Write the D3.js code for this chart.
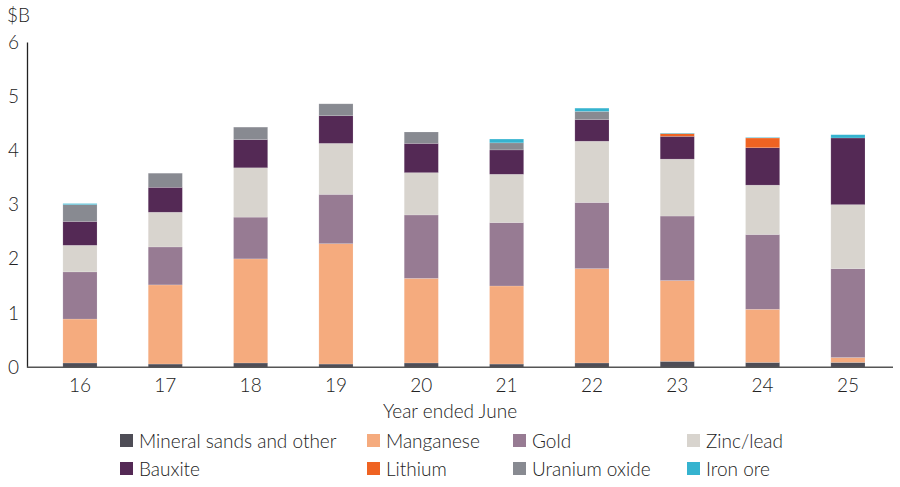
<!DOCTYPE html>
<html>
<head>
<meta charset="utf-8">
<script src="https://cdn.jsdelivr.net/npm/d3@7"></script>
<style>
  body { margin: 0; background: #fff; }
  svg text { font-family: Lato, "Open Sans", sans-serif; font-weight: 300; fill: #222; }
</style>
</head>
<body>
<svg id="chart"></svg>
<script>
// years along the x axis
const years = ["16", "17", "18", "19", "20", "21", "22", "23", "24", "25"];

// series, bottom to top, values in $B
const mineralSands = [0.08, 0.06, 0.08, 0.06, 0.08, 0.06, 0.08, 0.11, 0.09, 0.09];
const manganese    = [0.81, 1.46, 1.92, 2.22, 1.56, 1.44, 1.74, 1.49, 0.98, 0.09];
const gold         = [0.87, 0.70, 0.77, 0.91, 1.17, 1.17, 1.22, 1.19, 1.38, 1.64];
const zincLead     = [0.49, 0.64, 0.91, 0.94, 0.78, 0.89, 1.13, 1.05, 0.91, 1.18];
const bauxite      = [0.44, 0.46, 0.52, 0.51, 0.54, 0.45, 0.40, 0.42, 0.69, 1.23];
const lithium      = [0.00, 0.00, 0.00, 0.00, 0.00, 0.00, 0.00, 0.05, 0.18, 0.00];
const uranium      = [0.31, 0.26, 0.23, 0.22, 0.21, 0.13, 0.15, 0.00, 0.00, 0.00];
const ironOre      = [0.02, 0.00, 0.00, 0.00, 0.00, 0.07, 0.06, 0.01, 0.01, 0.06];

const yTicks = [0, 1, 2, 3, 4, 5, 6];

const series = [
  { key: "mineral", name: "Mineral sands and other", values: mineralSands, color: "#4e4d56" },
  { key: "manganese", name: "Manganese", values: manganese, color: "#f5ab7e" },
  { key: "gold", name: "Gold", values: gold, color: "#977b93" },
  { key: "zinc", name: "Zinc/lead", values: zincLead, color: "#d8d4ce" },
  { key: "bauxite", name: "Bauxite", values: bauxite, color: "#542955" },
  { key: "lithium", name: "Lithium", values: lithium, color: "#ef6322" },
  { key: "uranium", name: "Uranium oxide", values: uranium, color: "#888a91" },
  { key: "iron", name: "Iron ore", values: ironOre, color: "#35b3cf" }
];

// legend order (two rows of four)
const legendOrder = ["mineral", "manganese", "gold", "zinc", "bauxite", "lithium", "uranium", "iron"];

const width = 900, height = 487;
const margins = { left: 27, right: 7, top: 42, bottom: 119 };

const svg = d3.select("svg#chart").attr("width", width).attr("height", height);

const rows = years.map((y, i) => {
  const r = { year: y };
  series.forEach(s => { r[s.key] = s.values[i]; });
  return r;
});

const stack = d3.stack().keys(series.map(s => s.key));
const stacked = stack(rows);

const xScale = d3.scaleBand()
  .domain(years)
  .range([37.3, 890.6])
  .paddingInner(0.6)
  .paddingOuter(0.3);

const yScale = d3.scaleLinear()
  .domain([0, 6])
  .range([height - margins.bottom - 0.7, margins.top]);

// bars
const layers = svg.append("g").attr("id", "bars")
  .selectAll("g")
  .data(stacked)
  .join("g")
  .attr("fill", (d, i) => series[i].color);

layers.selectAll("rect")
  .data(d => d)
  .join("rect")
  .attr("x", d => xScale(d.data.year))
  .attr("width", xScale.bandwidth())
  .attr("y", d => yScale(d[1]))
  .attr("height", d => Math.max(0, yScale(d[0]) - yScale(d[1])))
  .attr("stroke", "rgba(255,255,255,0.25)")
  .attr("stroke-width", 0.6);

// y axis
const yAxis = svg.append("g")
  .attr("transform", `translate(${margins.left},0)`)
  .call(d3.axisLeft(yScale).tickValues(yTicks).tickFormat(d3.format("d")).tickSize(0).tickPadding(8));
yAxis.select(".domain").attr("stroke", "#222").attr("stroke-width", 1.3);
yAxis.selectAll("text").attr("font-size", 19).attr("fill", "#222");

// x axis
const xAxis = svg.append("g")
  .attr("transform", `translate(0,${yScale(0)})`)
  .call(d3.axisBottom(xScale).tickSize(0).tickPadding(11));
xAxis.select(".domain").remove();
xAxis.append("line")
  .attr("x1", margins.left)
  .attr("x2", 893)
  .attr("stroke", "#555")
  .attr("stroke-width", 1.6);
xAxis.selectAll("text").attr("font-size", 19).attr("fill", "#222");

svg.append("text")
  .attr("x", 7)
  .attr("y", 22)
  .attr("font-size", 19)
  .text("$B");

svg.append("text")
  .attr("x", 450)
  .attr("y", 418)
  .attr("text-anchor", "middle")
  .attr("font-size", 19)
  .text("Year ended June");

// legend
const legendCols = [120, 367, 513, 687];
const legendRows = [441, 469];
const legend = svg.append("g").attr("id", "legend")
  .selectAll("g")
  .data(legendOrder.map(k => series.find(s => s.key === k)))
  .join("g")
  .attr("transform", (d, i) => `translate(${legendCols[i % 4]},${legendRows[Math.floor(i / 4)]})`);

legend.append("rect")
  .attr("x", 0)
  .attr("y", -7)
  .attr("width", 13)
  .attr("height", 13)
  .attr("fill", d => d.color);

legend.append("text")
  .attr("x", 19)
  .attr("y", 7)
  .attr("font-size", 19)
  .text(d => d.name);
</script>
</body>
</html>
